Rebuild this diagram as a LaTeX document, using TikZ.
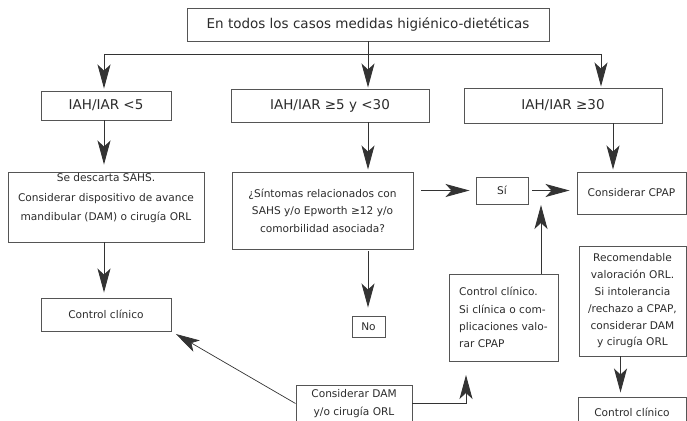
\documentclass[tikz,border=0pt]{standalone}
\usepackage{fontspec}
\setmainfont{DejaVu Sans}
\usetikzlibrary{arrows.meta,calc}

\definecolor{linegray}{HTML}{333333}
\definecolor{boxgray}{HTML}{555555}
\definecolor{txtgray}{HTML}{2B2B2B}

\newcommand{\bigtxt}{\fontsize{13.5}{16}\selectfont}
\newcommand{\smalltxt}{\fontsize{10.6}{17.5}\selectfont}

\begin{document}
\begin{tikzpicture}[x=1pt, y=-1pt,
    box/.style={draw=boxgray, line width=0.95pt, inner sep=2pt, text=txtgray, align=center, font=\smalltxt},
    headbox/.style={box, font=\bigtxt},
    ln/.style={draw=linegray, line width=0.9pt},
    arr/.style={ln, -{Stealth[length=24pt, width=13pt, inset=6pt]}}]
  \useasboundingbox (0,0) rectangle (687,420);

  % first level
  \node[headbox, minimum width=362, minimum height=33] (allcases) at (368,24.5) {En todos los casos medidas higiénico-dietéticas};
  \node[headbox, minimum width=130, minimum height=29] (low) at (106,105.5) {IAH/IAR <5};
  \node[headbox, minimum width=198, minimum height=33] (mid) at (330,105.5) {IAH/IAR ≥5 y <30};
  \node[headbox, minimum width=198, minimum height=35] (high) at (563,105.5) {IAH/IAR ≥30};

  % second level
  \node[box, minimum width=196, minimum height=70] (discard) at (106,207) {};
  \node[text=txtgray, align=center, anchor=north, inner sep=0pt, font=\fontsize{10.6}{19.5}\selectfont] (discardtxt) at ($(discard.north)+(0,2)$) {Se descarta SAHS.\\Considerar dispositivo de avance\\mandibular (DAM) o cirugía ORL};
  \node[box, minimum width=181, minimum height=77] (symptoms) at (322.5,210.5) {¿Síntomas relacionados con\\SAHS y/o Epworth ≥12 y/o\\comorbilidad asociada?};
  \node[box, minimum width=52, minimum height=27] (yes) at (502,190.5) {Sí};
  \node[box, minimum width=109, minimum height=42] (cpap) at (631.5,193) {Considerar CPAP};

  % third level
  \node[box, minimum width=130, minimum height=33] (followL) at (106,314.5) {Control clínico};
  \node[box, minimum width=33, minimum height=21] (no) at (368.5,326.5) {No};
  \node[box, align=left, minimum width=109, minimum height=87, font=\fontsize{10.6}{17.3}\selectfont] (followM) at (503.5,317.5) {Control clínico.\\Si clínica o com-\\plicaciones valo-\\rar CPAP};
  \node[box, minimum width=107, minimum height=110, font=\fontsize{10.6}{16.8}\selectfont] (rec) at (632.5,301) {Recomendable\\valoración ORL.\\Si intolerancia\\/rechazo a CPAP,\\considerar DAM\\y cirugía ORL};
  \node[box, minimum width=116, minimum height=36, font=\fontsize{10.6}{18}\selectfont] (dam) at (354,403.5) {Considerar DAM\\y/o cirugía ORL};
  \node[box, minimum width=108, minimum height=31] (followR) at (632,412.5) {Control clínico};

  % connectors
  \coordinate (splitL) at (104,54);
  \coordinate (splitM) at (368,54);
  \coordinate (splitR) at (601,54);
  \coordinate (highout) at ($(high.south)+(50,0)$);
  \coordinate (recout) at ($(rec.south)+(-12,0)$);
  \coordinate (joinYes) at (541,205);
  \coordinate (upM) at (466,375);

  \draw[ln] (allcases.south) -- (splitM);
  \draw[ln] (splitL) -- (splitR);
  \draw[arr, shorten >=2] (splitL) -- (splitL |- low.north);
  \draw[arr, shorten >=1] (splitM) -- (splitM |- mid.north);
  \draw[arr, shorten >=1] (splitR) -- (splitR |- high.north);

  \draw[arr, shorten >=7] (low.south -| splitL) -- (splitL |- discard.north);
  \draw[arr, shorten >=2] (mid.south -| splitM) -- (splitM |- symptoms.north);
  \draw[arr, shorten >=2] (highout) -- (highout |- cpap.north);

  \draw[arr, shorten <=8, shorten >=6] (symptoms.east |- yes.west) -- (yes.west);
  \draw[arr, shorten <=4, shorten >=7] (yes.east) -- (yes.east -| cpap.west);
  \draw[arr] (followM.north -| joinYes) -- (joinYes);

  \draw[arr, shorten >=5] (discard.south -| splitL) -- (splitL |- followL.north);
  \draw[arr, shorten <=2, shorten >=8] (symptoms.south -| splitM) -- (splitM |- no.north);
  \draw[arr, line width=0.7pt, shorten >=5] (dam.west) -- (followL.south east);
  \draw[arr] (dam.east) -- (dam.east -| upM) -- (upM);
  \draw[arr, shorten >=4] (recout) -- (recout |- followR.north);
\end{tikzpicture}
\end{document}
